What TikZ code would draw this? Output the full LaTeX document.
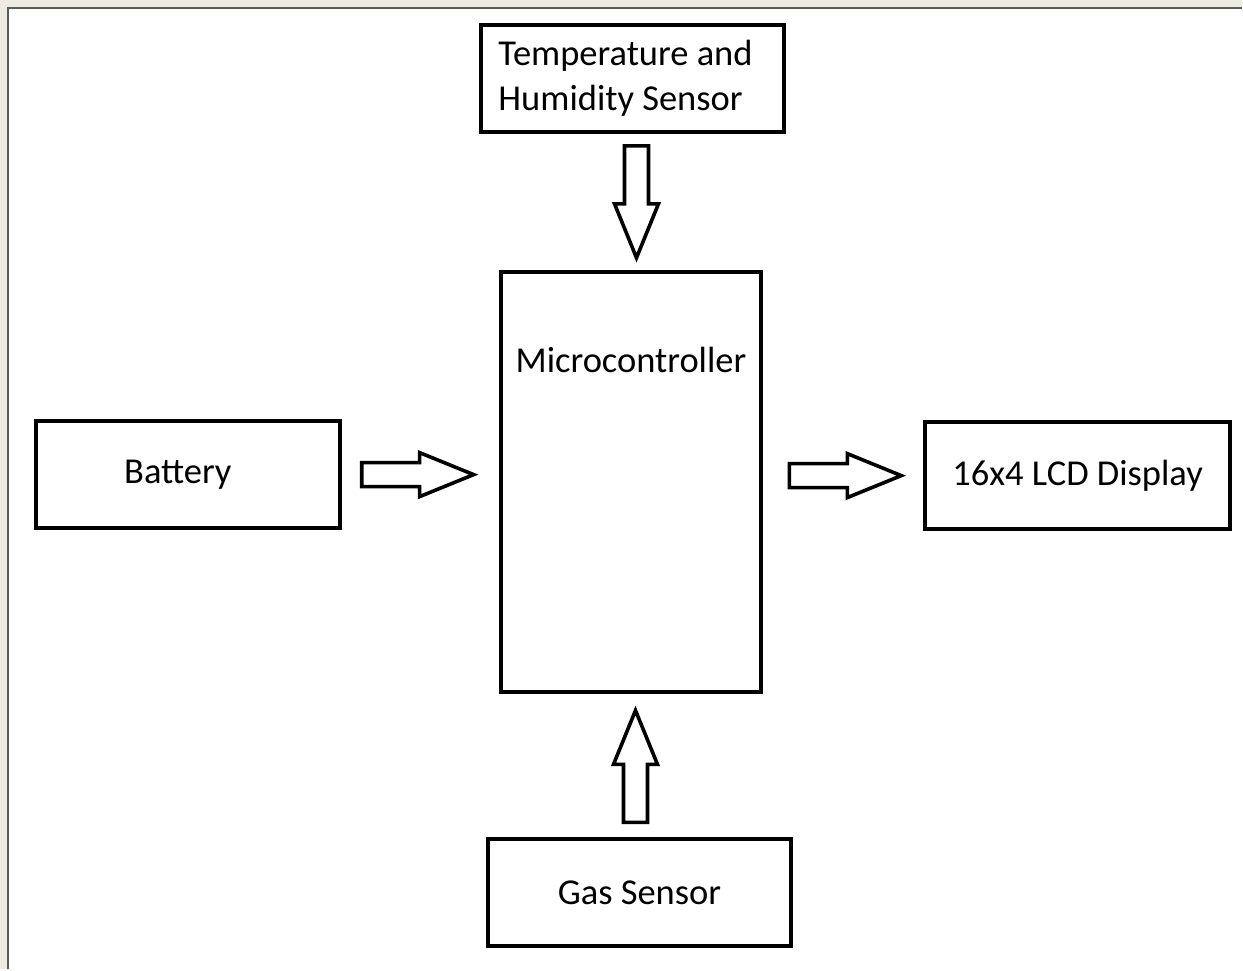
\documentclass[tikz,border=0pt]{standalone}
\usepackage{fontspec}
\setmainfont{Carlito}
\usepackage{xcolor}
\usetikzlibrary{positioning}
\definecolor{pagebg}{HTML}{EEECE2}
\definecolor{framegray}{HTML}{5A5A5A}

\begin{document}
\begin{tikzpicture}[x=1pt,y=-1pt]
            \tikzstyle{diagfont}=[font=\fontsize{36.5}{44.5}\selectfont]
            \tikzstyle{box}=[draw=black, line width=4pt, minimum width=304pt, minimum height=107pt, inner sep=0pt, diagfont]
            \tikzstyle{arrowline}=[draw=black, line width=3.6pt, fill=white, line join=miter]
            \tikzset{bigarrow/.pic={\draw[arrowline] (0,-12) -- (58,-12) -- (58,-22) -- (112,0) -- (58,22) -- (58,12) -- (0,12) -- cycle;}}
            \fill [pagebg] (0,0) rectangle (1243,970);
            \fill [white] (8,8) rectangle (1243,970);
            \draw [framegray, line width=2pt] (8,970) -- (8,8) -- (1243,8);
            \useasboundingbox (0,0) rectangle (1243,970);
            \node [box, align=left] (temp) at (633,78.5) {Temperature and\hspace*{14pt}\\Humidity Sensor};
            \node [box, minimum width=261pt, minimum height=421pt, label={[anchor=center, yshift=-90pt, diagfont]north:Microcontroller}] (mc) at (631.5,482.5) {};
            \node [box] (bat) at (188,475) {Battery\hspace*{20pt}};
            \node [box, minimum width=305pt] (lcd) at (1078.5,476) {16x4 LCD Display};
            \node [box] (gas) at (640,893.5) {Gas Sensor};
            \pic [rotate=-90] at ([xshift=4pt, yshift=-12pt]temp.south) {bigarrow};
            \pic at ([xshift=20pt]bat.east) {bigarrow};
            \pic at ([xshift=-134pt]lcd.west) {bigarrow};
            \pic [rotate=90] at ([xshift=-4pt, yshift=15pt]gas.north) {bigarrow};
\end{tikzpicture}
\end{document}
